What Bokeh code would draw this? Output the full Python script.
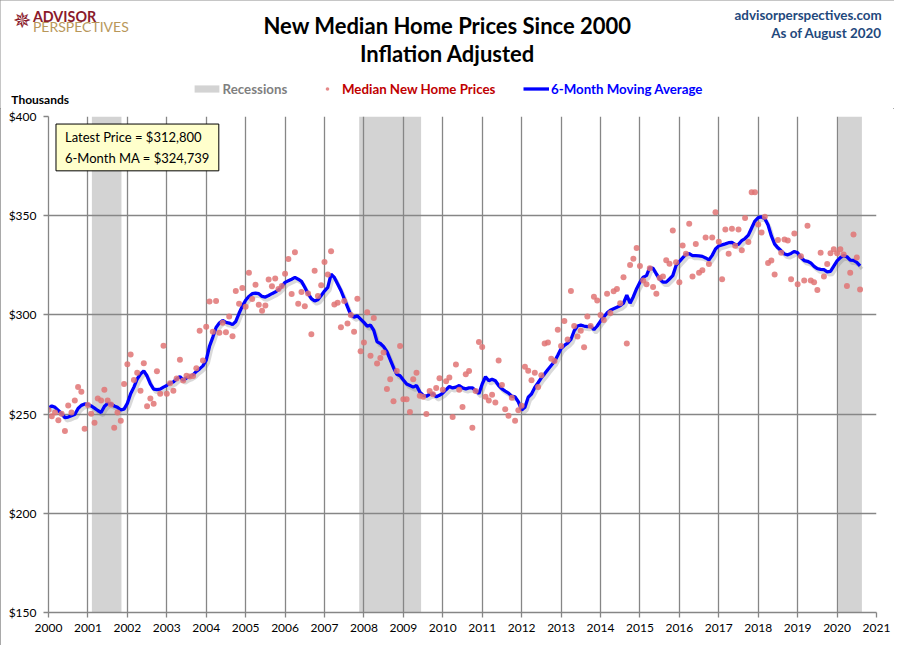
import pandas as pd
from bokeh.plotting import figure
from bokeh.layouts import column
from bokeh.models import (ColumnDataSource, FixedTicker, NumeralTickFormatter, Label,
                          Legend, LegendItem, Range1d)
from bokeh.embed import file_html
from bokeh.resources import INLINE

# monthly inflation adjusted median new home price, $ thousands, Jan 2000 .. Aug 2020
prices = [
    252.1, 248.9, 250.8, 246.9, 250.2, 241.5, 254.3, 250.8, 256.9, 263.6, 261.3, 242.6,
    254.6, 250.2, 245.6, 257.9, 256.9, 262.3, 256.9, 254.9, 243.1, 250.8, 246.6, 265.2,
    275.1, 280.0, 267.2, 270.8, 261.8, 275.6, 253.9, 257.9, 255.2, 271.6, 260.3, 284.4,
    260.3, 265.6, 261.8, 268.0, 277.4, 266.9, 269.3, 269.0, 269.2, 273.1, 292.0, 277.0,
    294.0, 306.8, 291.5, 307.0, 291.0, 296.0, 291.3, 299.2, 289.3, 312.0, 305.6, 313.6,
    304.1, 321.3, 308.0, 315.2, 305.1, 302.1, 304.8, 317.9, 314.4, 318.4, 313.0, 314.6,
    320.8, 328.2, 310.5, 331.6, 305.6, 311.5, 304.3, 310.8, 290.3, 322.3, 309.5, 314.9,
    326.7, 320.3, 332.1, 305.2, 306.1, 293.8, 307.0, 295.7, 300.0, 291.5, 308.2, 281.7,
    286.1, 301.3, 279.4, 298.5, 275.5, 278.3, 281.0, 262.7, 267.6, 256.5, 271.7, 284.3,
    257.5, 257.5, 251.0, 267.6, 270.8, 259.3, 258.7, 250.0, 261.6, 260.0, 263.2, 268.1,
    262.3, 266.5, 268.5, 248.5, 275.0, 262.3, 253.6, 270.1, 271.7, 243.1, 261.6, 286.3,
    283.8, 258.7, 256.9, 259.8, 255.9, 277.0, 264.7, 252.5, 249.2, 258.2, 246.6, 252.0,
    254.2, 273.9, 271.9, 267.0, 270.8, 263.7, 269.6, 285.6, 286.1, 277.9, 276.8, 292.5,
    284.3, 296.9, 287.6, 312.1, 294.4, 289.1, 292.0, 283.7, 299.2, 294.4, 309.2, 307.2,
    300.0, 297.4, 310.6, 301.0, 311.9, 313.1, 305.9, 319.0, 285.6, 325.2, 328.3, 333.7,
    324.7, 317.3, 315.4, 323.5, 314.1, 310.6, 318.6, 319.3, 327.5, 325.8, 342.5, 326.5,
    316.5, 335.0, 330.8, 345.9, 319.3, 335.7, 321.3, 322.5, 339.0, 325.6, 339.0, 351.8,
    336.9, 318.0, 343.0, 330.8, 343.4, 334.8, 343.0, 332.6, 348.9, 336.7, 361.8, 361.8,
    345.6, 341.5, 349.5, 326.1, 327.4, 320.3, 337.7, 331.3, 338.0, 337.5, 318.0, 341.0,
    315.4, 329.5, 317.4, 344.9, 317.4, 316.4, 312.5, 331.3, 319.3, 325.7, 331.1, 333.1,
    331.1, 333.1, 330.5, 314.6, 321.3, 340.5, 328.9, 312.8,
]

# 6-month moving average as drawn on the chart
moving_avg = [
    253.0, 254.1, 253.4, 251.8, 250.2, 248.2, 248.5, 249.2, 249.8, 252.8, 254.4, 255.1,
    254.9, 254.1, 253.0, 251.8, 250.8, 253.8, 255.4, 255.1, 254.1, 253.4, 252.1, 252.5,
    255.4, 260.3, 263.6, 267.7, 270.2, 271.8, 269.2, 265.2, 262.6, 262.3, 262.6, 263.6,
    264.4, 265.6, 266.2, 267.7, 268.9, 267.2, 268.2, 268.9, 269.8, 271.5, 272.8, 274.3,
    277.2, 284.2, 288.7, 293.7, 295.9, 297.2, 296.2, 295.9, 295.1, 296.7, 300.8, 304.4,
    307.4, 309.3, 310.7, 311.0, 310.7, 309.3, 309.0, 309.8, 310.7, 311.5, 312.6, 314.3,
    316.4, 317.2, 318.0, 318.9, 318.0, 316.9, 313.9, 310.7, 308.2, 307.0, 307.7, 309.8,
    312.0, 313.9, 320.5, 318.9, 315.6, 312.3, 308.2, 304.1, 300.0, 298.9, 299.5, 297.9,
    296.2, 294.3, 294.9, 292.2, 286.4, 285.6, 284.0, 281.5, 277.5, 273.4, 270.1, 269.3,
    267.2, 265.2, 264.4, 263.6, 264.4, 261.1, 259.5, 259.0, 260.0, 260.3, 258.7, 259.5,
    260.6, 262.3, 263.9, 263.2, 263.6, 264.4, 263.2, 262.7, 263.2, 263.2, 261.9, 260.3,
    265.2, 268.8, 266.8, 267.6, 266.8, 264.4, 262.7, 261.6, 260.6, 259.0, 258.7, 256.2,
    252.0, 253.5, 258.5, 260.1, 263.4, 265.8, 268.3, 270.3, 272.5, 274.5, 276.5, 279.7,
    283.0, 284.6, 285.8, 287.6, 292.0, 294.4, 294.8, 294.4, 294.1, 294.4, 292.5, 294.4,
    296.9, 298.9, 301.0, 302.3, 303.1, 303.9, 304.6, 305.9, 310.0, 305.9, 309.2, 313.2,
    316.5, 319.0, 319.8, 323.9, 323.5, 320.6, 318.1, 316.5, 316.5, 318.1, 319.8, 324.9,
    326.9, 328.7, 330.5, 330.9, 329.9, 329.9, 329.8, 329.5, 328.7, 327.7, 330.0, 333.2,
    334.8, 335.3, 335.8, 336.4, 336.5, 335.4, 335.6, 337.4, 338.5, 340.2, 343.8, 347.3,
    349.0, 349.4, 348.6, 345.3, 339.8, 335.7, 333.8, 332.3, 330.7, 330.3, 331.0, 332.0,
    331.3, 328.9, 327.4, 327.0, 326.2, 324.5, 323.3, 323.0, 322.8, 321.7, 321.9, 324.6,
    327.2, 328.9, 329.9, 329.3, 327.6, 327.5, 326.5, 324.7,
]

# recessions (decimal years)
rec_start = [2001.10, 2007.88, 2020.03]
rec_end = [2001.85, 2009.45, 2020.63]

years = list(range(2000, 2022))
y_ticks = [150, 200, 250, 300, 350, 400]

dates = pd.date_range("2000-01-01", periods=len(prices), freq="MS")
t = list(dates.year + (dates.month - 1) / 12)

src = ColumnDataSource(dict(t=t, price=prices, ma=moving_avg))
rec_src = ColumnDataSource(dict(start=rec_start, end=rec_end))

W, H = 894, 645
SX, SY = W / 910, H / 661     # reference picture -> canvas
HH = 108                      # header strip height
FL, FR, FB = 48, 876, 612     # main frame left / right / bottom on the whole canvas
GRID = "#868686"
FONT = "Lato"
REC_COLOR = "#D3D3D3"
DOT_COLOR = "#E07474"
MA_COLOR = "#0000FF"

# ---- header strip: titles, logo, legend (coordinates in reference pixels)
head = figure(width=W, height=HH, x_range=Range1d(0, 910), y_range=Range1d(HH / SY, 0),
              x_axis_type=None, y_axis_type=None, output_backend="svg",
              toolbar_location=None, min_border=0)
head.frame_align = False
head.grid.visible = False
head.outline_line_color = None


def label(px, py, text, size, color="black", bold=False, align="left", font=FONT):
    head.add_layout(Label(x=px, y=py, text=text, text_font=font,
                          text_font_size=f"{size}px", text_color=color,
                          text_font_style="bold" if bold else "normal",
                          text_align=align, text_baseline="middle"))


label(455, 26, "New Median Home Prices Since 2000", 22, bold=True, align="center")
label(455, 54, "Inflation Adjusted", 22, bold=True, align="center")
label(897, 15, "advisorperspectives.com", 13.4, color="#1F497D", bold=True, align="right")
label(897, 33, "As of August 2020", 13.4, color="#1F497D", bold=True, align="right")
label(22, 21, "\u2735", 22, color="#8B1A2B", align="center", font="DejaVu Sans")
label(33, 16, "ADVISOR", 14.3, color="#8B1A2B", bold=True)
label(33, 27, "PERSPECTIVES", 14, color="#B8975A")
label(11, 101, "Thousands", 12, bold=True)

# legend keys: the chart's own sources, drawn far outside this strip's ranges
k_rec = head.quad(left="start", right="end", bottom=150, top=400, source=rec_src,
                  fill_color=REC_COLOR, line_color=None)
k_dot = head.scatter(x="t", y="price", source=src, size=6, fill_color=DOT_COLOR,
                     fill_alpha=0.85, line_color=None)
k_ma = head.line(x="t", y="ma", source=src, line_color=MA_COLOR, line_width=3.3)

ly = HH - 91 * SY - 8


def legend(r, text, color, gx, gw, standoff):
    lg = Legend(items=[LegendItem(label=text, renderers=[r])], location=(gx, ly),
                label_text_color=color, label_text_font=FONT,
                label_text_font_style="bold", label_text_font_size="13.3px",
                background_fill_alpha=0, border_line_color=None, padding=0, margin=0,
                glyph_width=gw, glyph_height=9, label_height=16,
                label_standoff=standoff, spacing=0)
    head.add_layout(lg)


legend(k_rec, "Recessions", "#7F7F7F", 190.6, 31, 1)
legend(k_dot, "Median New Home Prices", "#C00000", 322, 10, 10)
legend(k_ma, "6-Month Moving Average", MA_COLOR, 523, 26, 2)

# ---- main chart
p = figure(width=W, height=H - HH, x_range=Range1d(2000, 2021), y_range=Range1d(150, 400),
           output_backend="svg", toolbar_location=None,
           min_border_left=FL, min_border_right=W - FR,
           min_border_top=8, min_border_bottom=H - FB)
p.frame_align = False
p.outline_line_color = None

# shadow of the average line: same data through ranges nudged a few pixels
dx = 2 * 21 / (FR - FL)
dy = 3 * 250 / (FB - HH - 8)
p.extra_x_ranges = {"shx": Range1d(2000 - dx, 2021 - dx)}
p.extra_y_ranges = {"shy": Range1d(150 + dy, 400 + dy)}

p.quad(left="start", right="end", bottom=150, top=400, source=rec_src,
       fill_color=REC_COLOR, line_color=None, level="image")
p.line(x="t", y="ma", source=src, x_range_name="shx", y_range_name="shy",
       line_color="#808080", line_alpha=0.3, line_width=3.5)
p.line(x="t", y="ma", source=src, line_color=MA_COLOR, line_width=3.3)
p.scatter(x="t", y="price", source=src, size=6, fill_color=DOT_COLOR,
          fill_alpha=0.85, line_color=None)

# axes & grid
p.xaxis.ticker = FixedTicker(ticks=years)
p.yaxis.ticker = FixedTicker(ticks=y_ticks)
p.xgrid.ticker = FixedTicker(ticks=years)
p.ygrid.ticker = FixedTicker(ticks=y_ticks)
p.yaxis.formatter = NumeralTickFormatter(format="$0")
for ax in (p.xaxis, p.yaxis):
    ax.axis_line_color = GRID
    ax.axis_line_width = 1.3
    ax.major_tick_line_color = GRID
    ax.major_tick_line_width = 1.3
    ax.major_tick_out = 5
    ax.major_tick_in = 0
    ax.minor_tick_line_color = None
    ax.major_label_text_font = FONT
    ax.major_label_text_font_size = "12px"
    ax.major_label_text_color = "black"
p.xaxis.major_label_standoff = 6
p.yaxis.major_label_standoff = 7
for g in (p.xgrid, p.ygrid):
    g.grid_line_color = GRID
    g.grid_line_width = 1.3

# callout box with shadow
box_text = "Latest Price = $312,800\n6-Month MA = $324,739"
for off, fill, alpha, talpha in ((4, "#000000", 0.25, 0.0), (0, "#FFFFCC", 1.0, 1.0)):
    p.add_layout(Label(x=2000.19 + off * 21 / (FR - FL), y=396.2 - off * 250 / 496,
                       text=box_text, text_font=FONT,
                       text_font_size="13px", text_color="black", text_alpha=talpha,
                       text_align="left", text_baseline="top", text_line_height=1.3,
                       padding=(9, 5), background_fill_color=fill,
                       background_fill_alpha=alpha,
                       border_line_color="black" if off == 0 else None))

page = column(head, p, spacing=0)
page.styles = {"outline": "1px solid #8c8c8c", "outline-offset": "-1px"}

open("out.html", "w").write(file_html(page, INLINE))
